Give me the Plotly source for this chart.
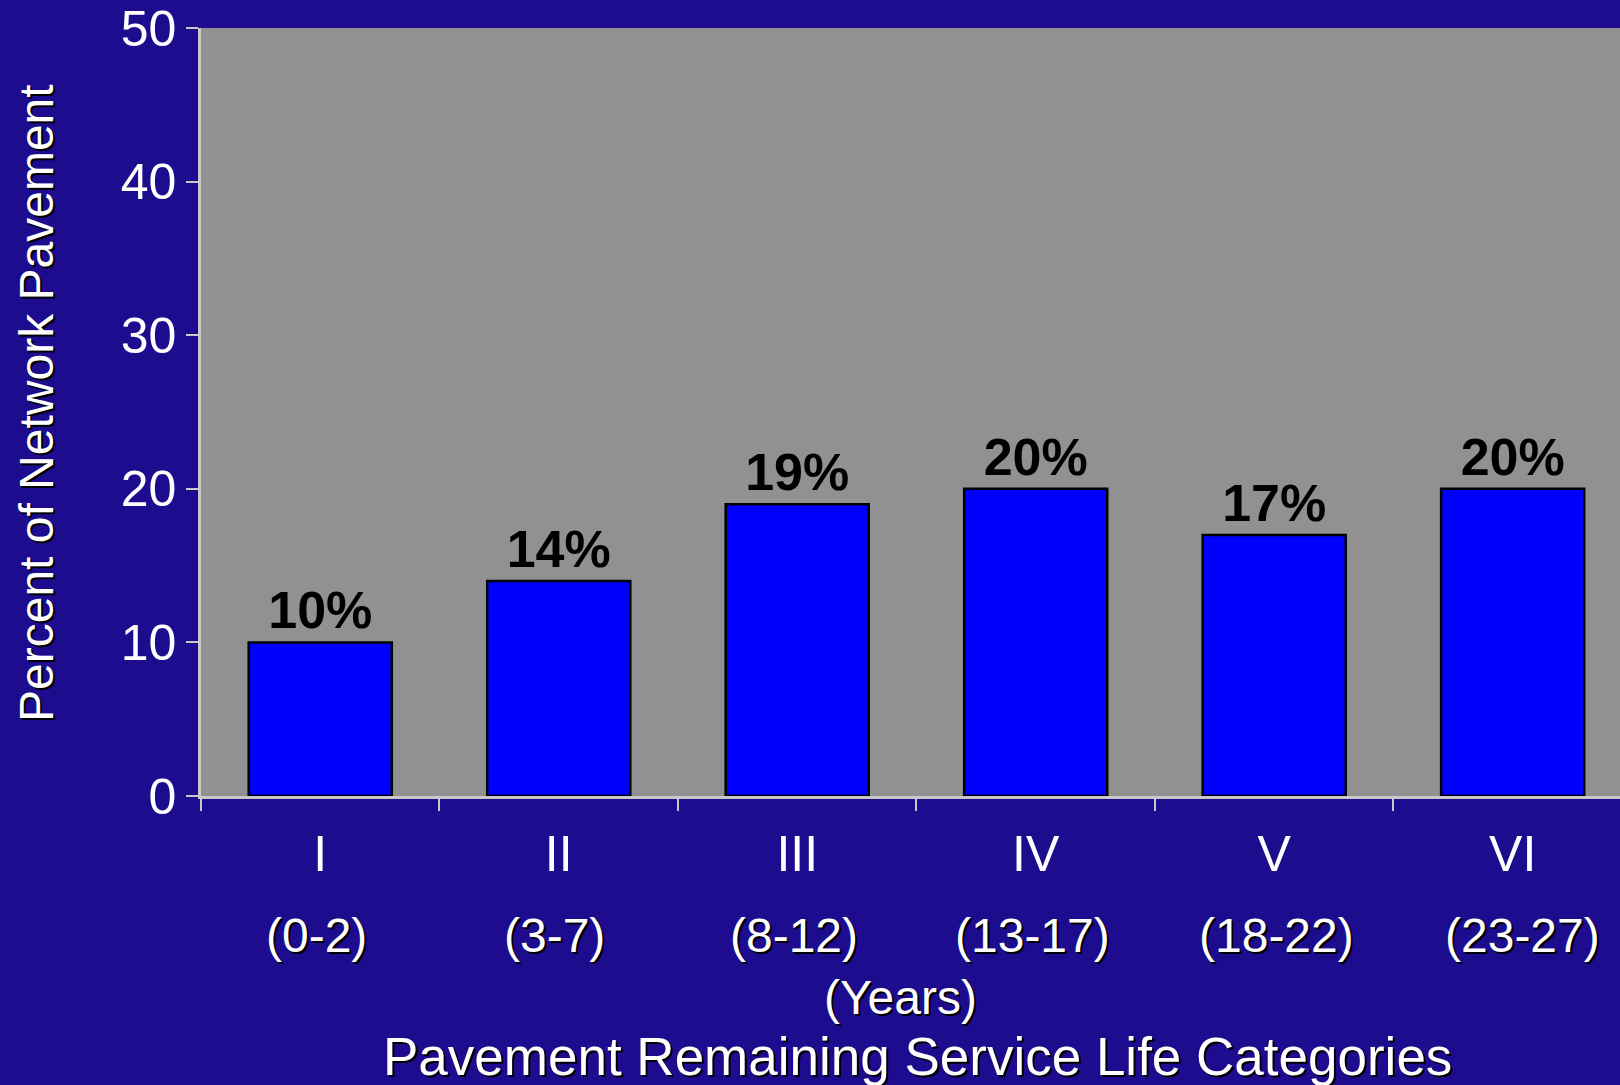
import plotly.graph_objects as go

categories = ["I", "II", "III", "IV", "V", "VI"]
year_ranges = ["(0-2)", "(3-7)", "(8-12)", "(13-17)", "(18-22)", "(23-27)"]
percent = [10, 14, 19, 20, 17, 20]
y_ticks = [0, 10, 20, 30, 40, 50]

BG = "#1E0C8E"
PLOT_BG = "#919191"
AXIS = "#C8C8C8"
FONT = "Liberation Sans, Arial, sans-serif"
SHADOW = "2px 2px 0px black"

fig = go.Figure()
fig.add_trace(go.Bar(
    x=categories, y=percent, width=0.6,
    marker=dict(color="#0000FF", line=dict(color="black", width=2.5)),
    text=[f"{v}%" for v in percent], textposition="outside",
    textfont=dict(family=FONT, size=52, color="black", weight="bold"),
    cliponaxis=False,
))

H_PLOT = 1085 - 28 - 289
def py(px):
    # convert a page y pixel to paper coordinates
    return (1085 - 289 - px) / H_PLOT

range_label_shift = [-4, -4, -3, -3, 2, 10]

annotations = []
for c, r, s in zip(categories, year_ranges, range_label_shift):
    annotations.append(dict(x=c, y=py(935), xref="x", yref="paper", text=r, xshift=s,
                            showarrow=False, xanchor="center", yanchor="middle",
                            font=dict(family=FONT, size=48, color="white", shadow=SHADOW)))
annotations.append(dict(x=(900 - 201) / 1419, y=py(997), xref="paper", yref="paper",
                        text="(Years)", showarrow=False, xanchor="center", yanchor="middle",
                        font=dict(family=FONT, size=48, color="white", shadow=SHADOW)))
annotations.append(dict(x=(918 - 201) / 1419, y=py(1056), xref="paper", yref="paper",
                        text="Pavement Remaining Service Life Categories", showarrow=False,
                        xanchor="center", yanchor="middle",
                        font=dict(family=FONT, size=53, color="white", shadow=SHADOW)))
annotations.append(dict(x=(36 - 201) / 1419, y=py(403), xref="paper", yref="paper",
                        text="Percent of Network Pavement", textangle=-90, showarrow=False,
                        xanchor="center", yanchor="middle",
                        font=dict(family=FONT, size=48, color="white", shadow="-2px 2px 0px black")))

fig.update_layout(
    width=1620, height=1085,
    margin=dict(l=201, r=0, t=28, b=289),
    paper_bgcolor=BG, plot_bgcolor=PLOT_BG,
    showlegend=False,
    annotations=annotations,
    xaxis=dict(type="category", categoryorder="array", categoryarray=categories,
               range=[-0.5, 5.45], tickson="boundaries", ticks="outside",
               ticklen=12, tickwidth=2, tickcolor=AXIS, showline=True, linecolor=AXIS,
               linewidth=2.5, showgrid=False, zeroline=False,
               tickfont=dict(family=FONT, size=50, color="white"),
               ticklabelstandoff=12),
    yaxis=dict(range=[0, 50], tickvals=y_ticks, ticks="outside", ticklen=12,
               tickwidth=2, tickcolor=AXIS, showline=True, linecolor=AXIS, linewidth=2.5,
               showgrid=False, zeroline=False,
               tickfont=dict(family=FONT, size=50, color="white")),
)

fig.write_html(
    "out.html",
    config={"displayModeBar": False},
    post_script="document.body.style.margin='0';document.body.style.padding='0';"
                "document.body.style.overflow='hidden';document.body.style.background='" + BG + "';",
)
